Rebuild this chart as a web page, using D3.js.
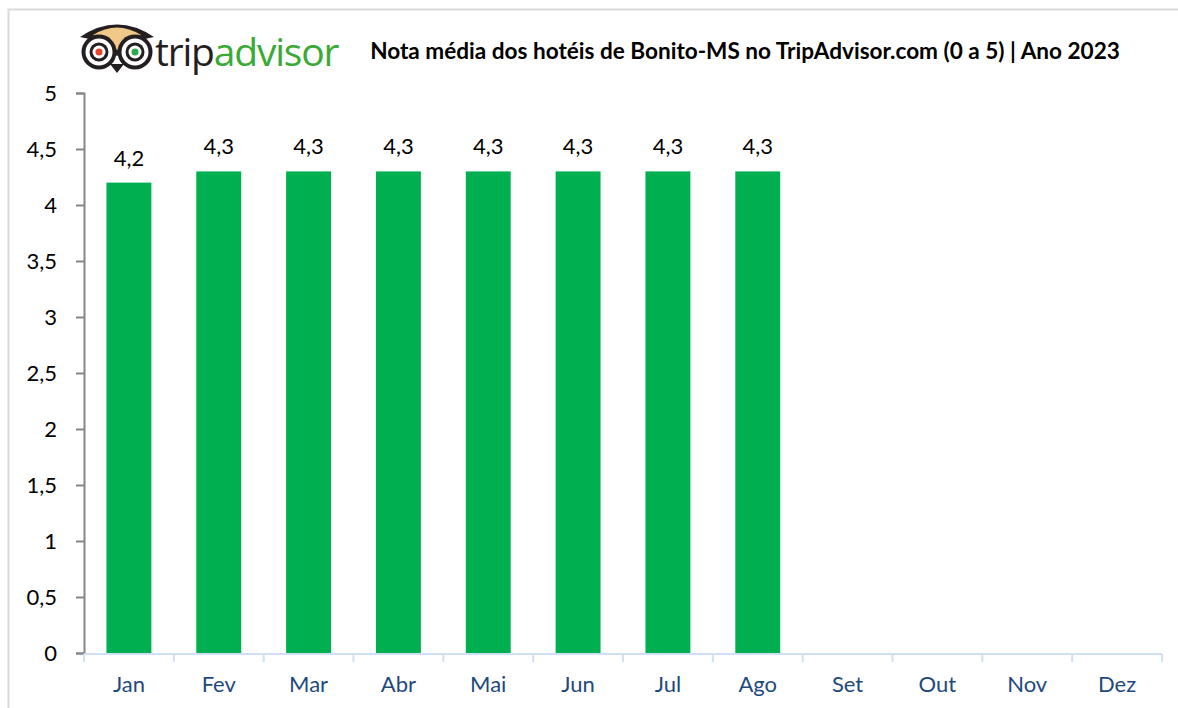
<!DOCTYPE html>
<html><head><meta charset="utf-8">
<script src="https://cdn.jsdelivr.net/npm/d3@7"></script>
<style>body{margin:0;background:#fff;} svg{display:block;}</style>
</head><body>
<svg id="c" width="1178" height="708"></svg>
<script>
const months = ["Jan","Fev","Mar","Abr","Mai","Jun","Jul","Ago","Set","Out","Nov","Dez"];
const ratings = [4.2,4.3,4.3,4.3,4.3,4.3,4.3,4.3,null,null,null,null];
const yTicks = [0,0.5,1,1.5,2,2.5,3,3.5,4,4.5,5];
const title = "Nota média dos hotéis de Bonito-MS no TripAdvisor.com (0 a 5) | Ano 2023";

(function(){
const svg = d3.select("#c");
const font = "Lato, 'Open Sans', sans-serif";
const fmt = v => String(v).replace(".", ",");

// border
svg.append("path").attr("d","M8.5,708 V9.5 H1178").attr("fill","none").attr("stroke","#d9d9d9").attr("stroke-width",2);

const L = 84, R = 1162, T = 93, B = 653;
const x = d3.scaleBand().domain(months).range([L,R]).paddingInner(0.5).paddingOuter(0.25);
const xb = d3.scaleBand().domain(months).range([L,R]);
const y = d3.scaleLinear().domain([0,5]).range([B,T]);

// y axis
const ya = svg.append("g").attr("transform",`translate(${L},0)`)
  .call(d3.axisLeft(y).tickValues(yTicks).tickFormat(fmt).tickSize(8).tickPadding(19));
ya.select(".domain").attr("stroke","#868686").attr("stroke-width",2);
ya.selectAll(".tick line").attr("stroke","#868686").attr("stroke-width",2);
ya.selectAll("text").attr("font-family",font).attr("font-size",22).attr("fill","#000");

// bars
const data = months.map((m,i)=>({m, v: ratings[i]})).filter(d=>d.v!=null);
svg.append("g").selectAll("rect").data(data).join("rect")
  .attr("x",d=>x(d.m)).attr("width",x.bandwidth())
  .attr("y",d=>y(d.v)).attr("height",d=>B-y(d.v))
  .attr("fill","#00b050");
svg.append("g").selectAll("text").data(data).join("text")
  .attr("x",d=>x(d.m)+x.bandwidth()/2).attr("y",d=>y(d.v)-17)
  .attr("text-anchor","middle").attr("font-family",font).attr("font-size",22).attr("fill","#000")
  .text(d=>fmt(d.v));

// x axis
const xg = svg.append("g").attr("transform",`translate(0,${B+1})`);
xg.append("line").attr("x1",L).attr("x2",R).attr("stroke","#d0dff2").attr("stroke-width",2);
xg.selectAll("line.t").data(months.concat(["_end"])).join("line").attr("class","t")
  .attr("x1",(d,i)=>i<12?xb(d):R).attr("x2",(d,i)=>i<12?xb(d):R)
  .attr("y1",0).attr("y2",8).attr("stroke","#d0dff2").attr("stroke-width",2);
xg.selectAll("text").data(months).join("text")
  .attr("x",d=>xb(d)+xb.bandwidth()/2).attr("y",38)
  .attr("text-anchor","middle").attr("font-family",font).attr("font-size",22).attr("fill","#1f497d")
  .text(d=>d);

// title (fit to reference width)
const tt = svg.append("text").attr("x",745).attr("y",59).attr("text-anchor","middle")
  .attr("font-family",font).attr("font-weight","bold").attr("font-size",19).attr("fill","#000").text(title);
const w = tt.node().getComputedTextLength();
tt.attr("font-size", 19*750/w);

// logo
const lg = svg.append("g");
lg.append("path").attr("d","M80,37 Q117,12 154,37 L140,40 L117,56 L94,40 Z").attr("fill","#231f20");
lg.append("path").attr("d","M93,35 Q117,20 141,35 L117,50 Z").attr("fill","#f0c887");
lg.append("path").attr("d","M110,64 L117,73 L124,64 Z").attr("fill","#231f20");
[[99,52,"#e8442c"],[135,52,"#2bab4b"]].forEach(([cx,cy,c])=>{
  lg.append("circle").attr("cx",cx).attr("cy",cy).attr("r",17.5).attr("fill","#231f20");
  lg.append("circle").attr("cx",cx).attr("cy",cy).attr("r",13.5).attr("fill","#fff");
  lg.append("circle").attr("cx",cx).attr("cy",cy).attr("r",9.5).attr("fill","#231f20");
  lg.append("circle").attr("cx",cx).attr("cy",cy).attr("r",6.5).attr("fill","#fff");
  lg.append("circle").attr("cx",cx).attr("cy",cy).attr("r",3.5).attr("fill",c);
});
const lt = lg.append("text").attr("x",155).attr("y",66).attr("font-family","'Open Sans', sans-serif").attr("font-size",39).attr("letter-spacing",-1.2);
lt.append("tspan").attr("fill","#231f20").text("trip");
lt.append("tspan").attr("fill","#3aaa35").text("advisor");
})();
</script>
</body></html>
